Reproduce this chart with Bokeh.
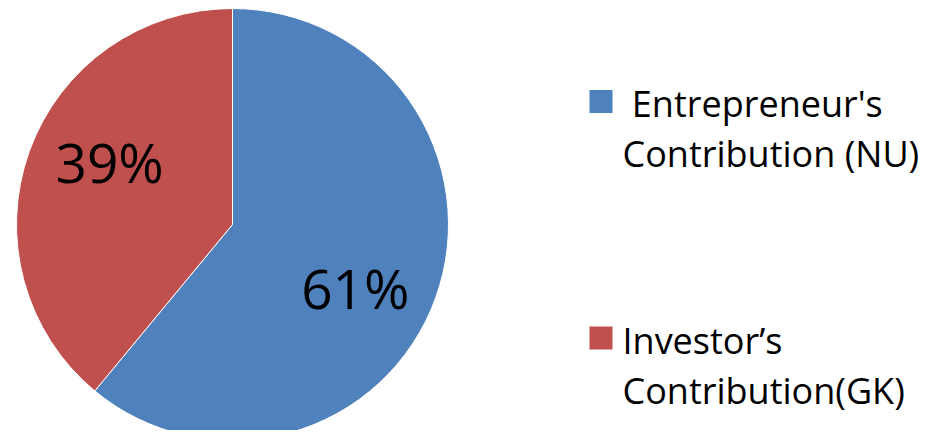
import math
from bokeh.plotting import figure
from bokeh.models import Range1d, ColumnDataSource
from bokeh.core.properties import value
from bokeh.embed import file_html
from bokeh.resources import INLINE

# ---- data ----
categories = ["Entrepreneur's Contribution (NU)", "Investor\u2019s Contribution(GK)"]
legend_lines = [["\u00a0Entrepreneur's", "Contribution (NU)"], ["Investor\u2019s", "Contribution(GK)"]]
shares = [61, 39]
colors = ["#4F81BD", "#C0504D"]

# ---- layout ----
W, H = 929, 430
cx, cy, R = 232, 206, 216
FONT = "Open Sans"
LABEL_R = 0.64
LABEL_ROT = math.radians(-7.5)

p = figure(width=W, height=H, output_backend="svg", toolbar_location=None,
           x_range=Range1d(0, W), y_range=Range1d(0, H), min_border=0)
p.axis.visible = False
p.grid.visible = False
p.outline_line_color = None
p.background_fill_color = "white"

total = sum(shares)
starts, ends, mids = [], [], []
a = math.pi / 2
for s in shares:
    span = 2 * math.pi * s / total
    starts.append(a)
    ends.append(a - span)
    mids.append(a - span / 2)
    a -= span

src = ColumnDataSource(dict(x=[cx] * len(shares), y=[cy] * len(shares),
                            start=ends, end=starts, color=colors))
p.wedge(x="x", y="y", radius=R, start_angle="start", end_angle="end",
        fill_color="color", line_color="white", line_width=1, source=src)

lx = [cx + LABEL_R * R * math.cos(m + LABEL_ROT) for m in mids]
ly = [cy + LABEL_R * R * math.sin(m + LABEL_ROT) for m in mids]
labels = [f"{s}%" for s in shares]
p.text(x=lx, y=ly, text=labels, text_font=value(FONT), text_font_size="55px",
       text_align="center", text_baseline="middle", text_color="black")

# legend
leg_x, sq_y0, leg_step, line_h = 589, 329, 236.5, 50
sq = 23
txt_dy = -2   # first-line baseline relative to square centre
for i, (lines, c) in enumerate(zip(legend_lines, colors)):
    sy = sq_y0 - i * leg_step
    p.rect(x=[leg_x + sq / 2], y=[sy], width=sq, height=sq,
           fill_color=c, line_color=None)
    p.text(x=[leg_x + 33] * len(lines), y=[sy + txt_dy - k * line_h for k in range(len(lines))],
           text=lines, text_font=value(FONT), text_font_size="36px",
           text_align="left", text_baseline="alphabetic", text_color="black")

open("out.html", "w").write(file_html(p, INLINE))
